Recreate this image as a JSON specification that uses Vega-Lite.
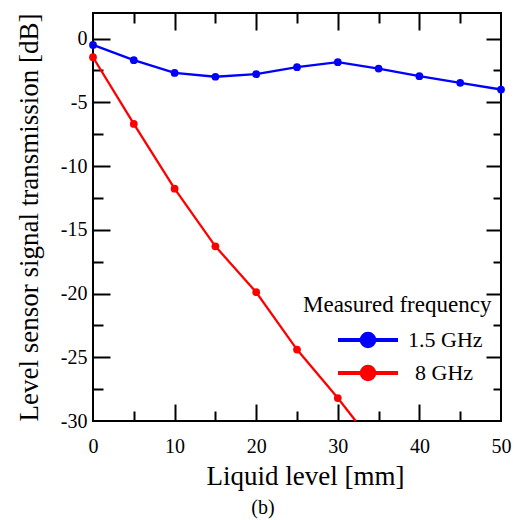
{
  "$schema": "https://vega.github.io/schema/vega-lite/v6.json",
  "width": 408,
  "height": 408,
  "autosize": {"type": "none"},
  "padding": {"left": 93, "top": 13, "right": 18, "bottom": 99},
  "background": "white",
  "config": {
    "font": "Liberation Serif",
    "view": {"stroke": "black", "strokeWidth": 2},
    "style": {"guide-label": {"font": "Liberation Serif", "fill": "black"}, "guide-title": {"font": "Liberation Serif", "fill": "black"}},
    "axis": {
      "labelColor": "black", "titleColor": "black",
      "labelFont": "Liberation Serif", "titleFont": "Liberation Serif",
      "labelFontSize": 20, "titleFontWeight": "normal",
      "grid": false, "domain": false, "labelFlush": false,
      "tickColor": "black", "tickWidth": 2
    }
  },
  "title": {"text": "(b)", "orient": "bottom", "anchor": "middle", "fontSize": 20, "fontWeight": "normal", "font": "Liberation Serif", "color": "black", "offset": 9, "dx": -34},
  "data": {
    "values": [
      {"series": "1.5 GHz", "level": 0, "dB": -0.5},
      {"series": "1.5 GHz", "level": 5, "dB": -1.7},
      {"series": "1.5 GHz", "level": 10, "dB": -2.7},
      {"series": "1.5 GHz", "level": 15, "dB": -3.0},
      {"series": "1.5 GHz", "level": 20, "dB": -2.8},
      {"series": "1.5 GHz", "level": 25, "dB": -2.25},
      {"series": "1.5 GHz", "level": 30, "dB": -1.86},
      {"series": "1.5 GHz", "level": 35, "dB": -2.36},
      {"series": "1.5 GHz", "level": 40, "dB": -2.96},
      {"series": "1.5 GHz", "level": 45, "dB": -3.48},
      {"series": "1.5 GHz", "level": 50, "dB": -4.0},
      {"series": "8 GHz", "level": 0, "dB": -1.47},
      {"series": "8 GHz", "level": 5, "dB": -6.7},
      {"series": "8 GHz", "level": 10, "dB": -11.78},
      {"series": "8 GHz", "level": 15, "dB": -16.3},
      {"series": "8 GHz", "level": 20, "dB": -19.9},
      {"series": "8 GHz", "level": 25, "dB": -24.4},
      {"series": "8 GHz", "level": 30, "dB": -28.2},
      {"series": "8 GHz", "level": 32.2, "dB": -30}
    ]
  },
  "encoding": {
    "color": {
      "field": "series", "type": "nominal",
      "scale": {"domain": ["1.5 GHz", "8 GHz"], "range": ["#0000ff", "#ff0000"]},
      "legend": {
        "orient": "none", "legendX": 210, "legendY": 281,
        "title": "Measured frequency", "titleLimit": 400, "labelLimit": 300,
        "titleFont": "Liberation Serif", "titleFontSize": 23, "titleFontWeight": "normal", "titleColor": "black",
        "titlePadding": 6,
        "labelFont": "Liberation Serif", "labelFontSize": 22, "labelColor": "black",
        "symbolType": "M-2,0L2,0M-0.42,0A0.42,0.42,0,1,1,0.42,0A0.42,0.42,0,1,1,-0.42,0Z",
        "symbolSize": 900, "symbolStrokeWidth": 4,
        "symbolOffset": 48, "labelOffset": 23, "rowPadding": 1,
        "encode": {
          "symbols": {"update": {"fill": {"scale": "color", "field": "value"}, "stroke": {"scale": "color", "field": "value"}, "opacity": {"value": 1}}},
          "labels": {"update": {"dx": {"signal": "datum.value == '8 GHz' ? 7 : 0"}}}
        }
      }
    }
  },
  "layer": [
    {
      "mark": {"type": "line", "strokeWidth": 2.3},
      "encoding": {
        "x": {"field": "level", "type": "quantitative", "scale": {"domain": [0, 50], "nice": false, "zero": false},
          "axis": {"orient": "bottom", "values": [0, 10, 20, 30, 40, 50], "ticks": false, "labelFlush": false, "labelPadding": 15, "labelFont": "Liberation Serif", "labelFontSize": 20, "title": "Liquid level [mm]", "titleFont": "Liberation Serif", "titleFontSize": 27, "titlePadding": 7, "titleX": 212}},
        "y": {"field": "dB", "type": "quantitative", "scale": {"domain": [-30, 2], "nice": false, "zero": false},
          "axis": {"orient": "left", "values": [-30, -25, -20, -15, -10, -5, 0], "ticks": false, "labelFlush": false, "labelPadding": 6, "labelFont": "Liberation Serif", "labelFontSize": 20, "labelExpr": "'' + datum.value", "title": "Level sensor signal transmission [dB]", "titleFont": "Liberation Serif", "titleFontSize": 27, "titlePadding": 17}}
      }
    },
    {
      "transform": [{"filter": "datum.level % 5 == 0"}],
      "mark": {"type": "point", "filled": true, "size": 60, "opacity": 1},
      "encoding": {
        "x": {"field": "level", "type": "quantitative", "axis": {"orient": "bottom", "values": [10, 20, 30, 40], "labels": false, "tickSize": -17, "title": null}},
        "y": {"field": "dB", "type": "quantitative", "axis": {"orient": "left", "values": [-25, -20, -15, -10, -5, 0], "labels": false, "tickSize": -17, "title": null}}
      }
    },
    {
      "mark": {"type": "point", "opacity": 0},
      "encoding": {
        "x": {"field": "level", "type": "quantitative", "axis": {"orient": "bottom", "values": [5, 15, 25, 35, 45], "labels": false, "tickSize": -10, "title": null}},
        "y": {"field": "dB", "type": "quantitative", "axis": {"orient": "left", "values": [-27.5, -22.5, -17.5, -12.5, -7.5, -2.5], "labels": false, "tickSize": -10, "title": null}}
      }
    },
    {
      "mark": {"type": "point", "opacity": 0},
      "encoding": {
        "x": {"field": "level", "type": "quantitative", "axis": {"orient": "top", "values": [10, 20, 30, 40], "labels": false, "tickSize": -17, "title": null}},
        "y": {"field": "dB", "type": "quantitative", "axis": {"orient": "right", "values": [-25, -20, -15, -10, -5, 0], "labels": false, "tickSize": -15, "title": null}}
      }
    },
    {
      "mark": {"type": "point", "opacity": 0},
      "encoding": {
        "x": {"field": "level", "type": "quantitative", "axis": {"orient": "top", "values": [5, 15, 25, 35, 45], "labels": false, "tickSize": -10, "title": null}},
        "y": {"field": "dB", "type": "quantitative", "axis": {"orient": "right", "values": [-27.5, -22.5, -17.5, -12.5, -7.5, -2.5], "labels": false, "tickSize": -8, "title": null}}
      }
    }
  ],
  "resolve": {"axis": {"x": "independent", "y": "independent"}}
}
